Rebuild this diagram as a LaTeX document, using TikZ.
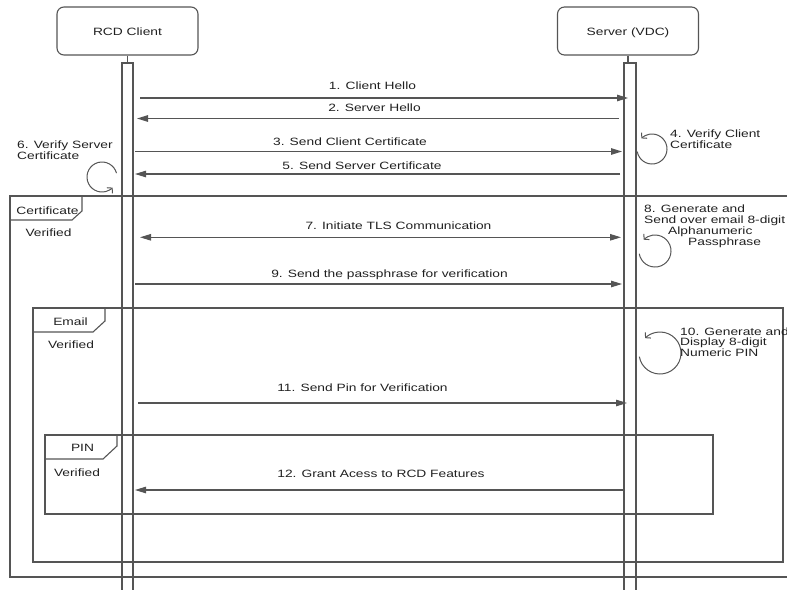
\documentclass[tikz,border=0pt]{standalone}
\usepackage{fontspec}
\setmainfont{Liberation Sans}[FakeStretch=1.3]
\usetikzlibrary{arrows.meta}
\definecolor{lc}{HTML}{555555}
\definecolor{tc}{HTML}{202020}
\begin{document}
\begin{tikzpicture}[x=1pt,y=-1pt,
  every node/.style={font=\fontsize{10.6}{11.2}\selectfont, text=tc, inner sep=0pt},
  gline/.style={draw=lc, line width=1.1pt},
  msg/.style={gline, -{Triangle[length=11pt,width=6.5pt,fill=lc]}},
  msgboth/.style={gline, {Triangle[length=11pt,width=6.5pt,fill=lc]}-{Triangle[length=11pt,width=6.5pt,fill=lc]}},
  selfloop/.style={gline, line width=1pt, -{Straight Barb[length=3.5pt,width=8pt]}},
  actor/.style={gline, rounded corners=7pt, minimum width=141pt, minimum height=48pt, fill=white},
  lbl/.style={anchor=base},
  lblw/.style={anchor=base west},
  bar/.style={gline}
]
\useasboundingbox (0,0) rectangle (787,589);
\clip (0,0) rectangle (787,589);

% actors
\node[actor] (rcd) at (127.5,31) {};
\node[lbl] at (127.5,35) {RCD Client};
\node[actor] (srv) at (628,31) {};
\node[lbl] at (628,35) {Server (VDC)};

% lifelines
\coordinate (ctop) at (127.5,63);
\coordinate (stop) at (630,63);
\draw[gline] (rcd.south) -- (rcd.south |- ctop);
\draw[gline] (srv.south) -- (srv.south |- stop);
\draw[bar] (122,63) rectangle (133,600);
\draw[bar] (624,63) rectangle (636,600);

% frames
\draw[gline] (10,196) rectangle (800,577);
\draw[gline] (10,220) -- (72,220) -- (82,211) -- (82,196);
\node[lbl] at (47.5,214) {Certificate};
\node[lbl] at (48.5,236.7) {Verified};

\draw[gline] (33,308) rectangle (783,562);
\draw[gline] (33,332) -- (93,332) -- (105,321) -- (105,308);
\node[lbl] at (70.5,325) {Email};
\node[lbl] at (71,348) {Verified};

\draw[gline] (45,435) rectangle (713,514);
\draw[gline] (45,459) -- (103,459) -- (117,446) -- (117,435);
\node[lbl] at (82.5,451) {PIN};
\node[lbl] at (77,476.7) {Verified};

% message end points
\coordinate (c1) at (140,98);    \coordinate (s1) at (628,98);
\coordinate (c2) at (137,118.5); \coordinate (s2) at (619,118.5);
\coordinate (c3) at (135,151.5); \coordinate (s3) at (622,151.5);
\coordinate (c5) at (135,174);   \coordinate (s5) at (620,174);
\coordinate (c7) at (140,237.3); \coordinate (s7) at (621,237.3);
\coordinate (c9) at (135,284);   \coordinate (s9) at (622,284);
\coordinate (c11) at (138,403);  \coordinate (s11) at (627,403);
\coordinate (c12) at (135,490);  \coordinate (s12) at (625,490);

\draw[msg] (c1) -- (s1);
\draw[msg] (s2) -- (c2);
\draw[msg] (c3) -- (s3);
\draw[msg] (s5) -- (c5);
\draw[msgboth] (c7) -- (s7);
\draw[msg] (c9) -- (s9);
\draw[msg] (c11) -- (s11);
\draw[msg] (s12) -- (c12);

\node[lbl] at (372.5,89.4) {1. Client Hello};
\node[lbl] at (374.5,111.7) {2. Server Hello};
\node[lbl] at (350,145.7) {3. Send Client Certificate};
\node[lbl] at (362,169) {5. Send Server Certificate};
\node[lbl] at (398.5,229) {7. Initiate TLS Communication};
\node[lbl] at (389.5,277.7) {9. Send the passphrase for verification};
\node[lbl] at (362.5,391.7) {11. Send Pin for Verification};
\node[lbl] at (381,477) {12. Grant Acess to RCD Features};

% self loops
\coordinate (l4) at (652,149);
\draw[selfloop] ([shift={(170:15)}]l4) arc[start angle=170, end angle=-135, radius=15];
\node[lblw] at (670,137.3) {4. Verify Client};
\node[lblw] at (670,148.3) {Certificate};

\coordinate (l6) at (102,177);
\draw[selfloop] ([shift={(-15:15)}]l6) arc[start angle=-15, end angle=-315, radius=15];
\node[lblw] at (17,148.3) {6. Verify Server};
\node[lblw] at (17,159.3) {Certificate};

\coordinate (l8) at (655,251);
\draw[selfloop] ([shift={(170:16)}]l8) arc[start angle=170, end angle=-135, radius=16];
\node[lblw] at (644,212.3) {8. Generate and};
\node[lblw] at (644,223.3) {Send over email 8-digit};
\node[lblw] at (668,234) {Alphanumeric};
\node[lblw] at (688,245) {Passphrase};

\coordinate (l10) at (660,353);
\draw[selfloop] ([shift={(170:21)}]l10) arc[start angle=170, end angle=-135, radius=21];
\node[lblw] at (680,335) {10. Generate and};
\node[lblw] at (680,345.7) {Display 8-digit};
\node[lblw] at (680,356.7) {Numeric PIN};
\end{tikzpicture}
\end{document}
